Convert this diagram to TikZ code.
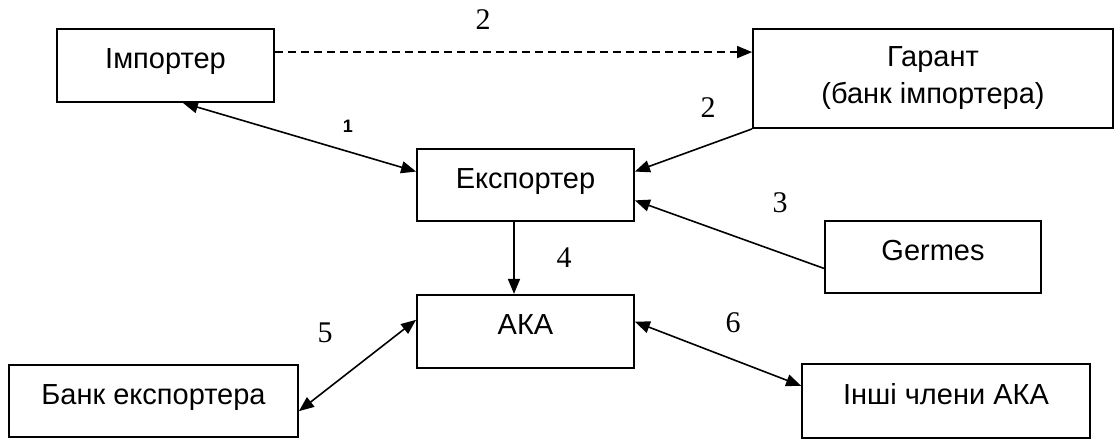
\documentclass[tikz,border=0pt]{standalone}
\usepackage{fontspec}
\setmainfont{Liberation Serif}
\newfontfamily\partyfont{Liberation Sans}
\usetikzlibrary{arrows.meta,positioning}

\begin{document}
\begin{tikzpicture}[x=0.5pt, y=-0.5pt,
  unit/.style={rectangle, draw, line width=0.9pt, align=center,
    font=\partyfont\fontsize{14.5}{18.5}\selectfont},
  party/.style={unit, text height=10.5pt, text depth=7.5pt},
  num/.style={inner sep=0pt, font=\fontsize{15}{17}\selectfont},
  link/.style={line width=0.8pt, -{Triangle[length=7.5pt,width=6pt]}},
  both/.style={link, {Triangle[length=7.5pt,width=6pt]}-{Triangle[length=7.5pt,width=6pt]}}]
\useasboundingbox (0,0) rectangle (1114,439);

% participants
\node[party, minimum width=108.5pt, minimum height=36.5pt] (imp) at (165.5,65.5) {Імпортер};
\node[unit, minimum width=180pt, minimum height=49.5pt] (garant) at (933,78.5) {Гарант\\(банк імпортера)};
\node[party, minimum width=108.5pt, minimum height=36pt] (exp) at (525.5,185) {Експортер};
\node[party, minimum width=108pt, minimum height=36pt] (germes) at (933,257) {Germes};
\node[party, minimum width=108.5pt, minimum height=36.5pt, below=36pt of exp] (aka) {АКА};
\node[party, minimum width=144.5pt, minimum height=36pt] (bank) at (153.5,401) {Банк експортера};
\node[party, minimum width=144pt, minimum height=37pt] (other) at (946,401) {Інші члени АКА};

% connections
\draw[both] (imp.-65) -- (exp.173);
\draw[link, dashed, dash pattern=on 4pt off 2.5pt] (imp.7) -- (imp.7 -| garant.west);
\draw[link] (garant.south west) -- (exp.7);
\draw[link] (germes.186) -- (exp.-8);
\draw[link] ([xshift=-5.75pt]exp.south) -- ([xshift=-5.75pt]aka.north);
\draw[both] (bank.-4) -- (aka.174);
\draw[both] (aka.5) -- (other.174.5);

% step numbers
\node[inner sep=0pt, font=\partyfont\bfseries\fontsize{9}{10}\selectfont] (n1) at (348,126) {1};
\node[num] (n2a) at (483,20) {2};
\node[num] (n2b) at (708,108) {2};
\node[num] (n3) at (780,203) {3};
\node[num] (n4) at (564,258) {4};
\node[num] (n5) at (325,333) {5};
\node[num] (n6) at (733,323) {6};
\end{tikzpicture}
\end{document}
